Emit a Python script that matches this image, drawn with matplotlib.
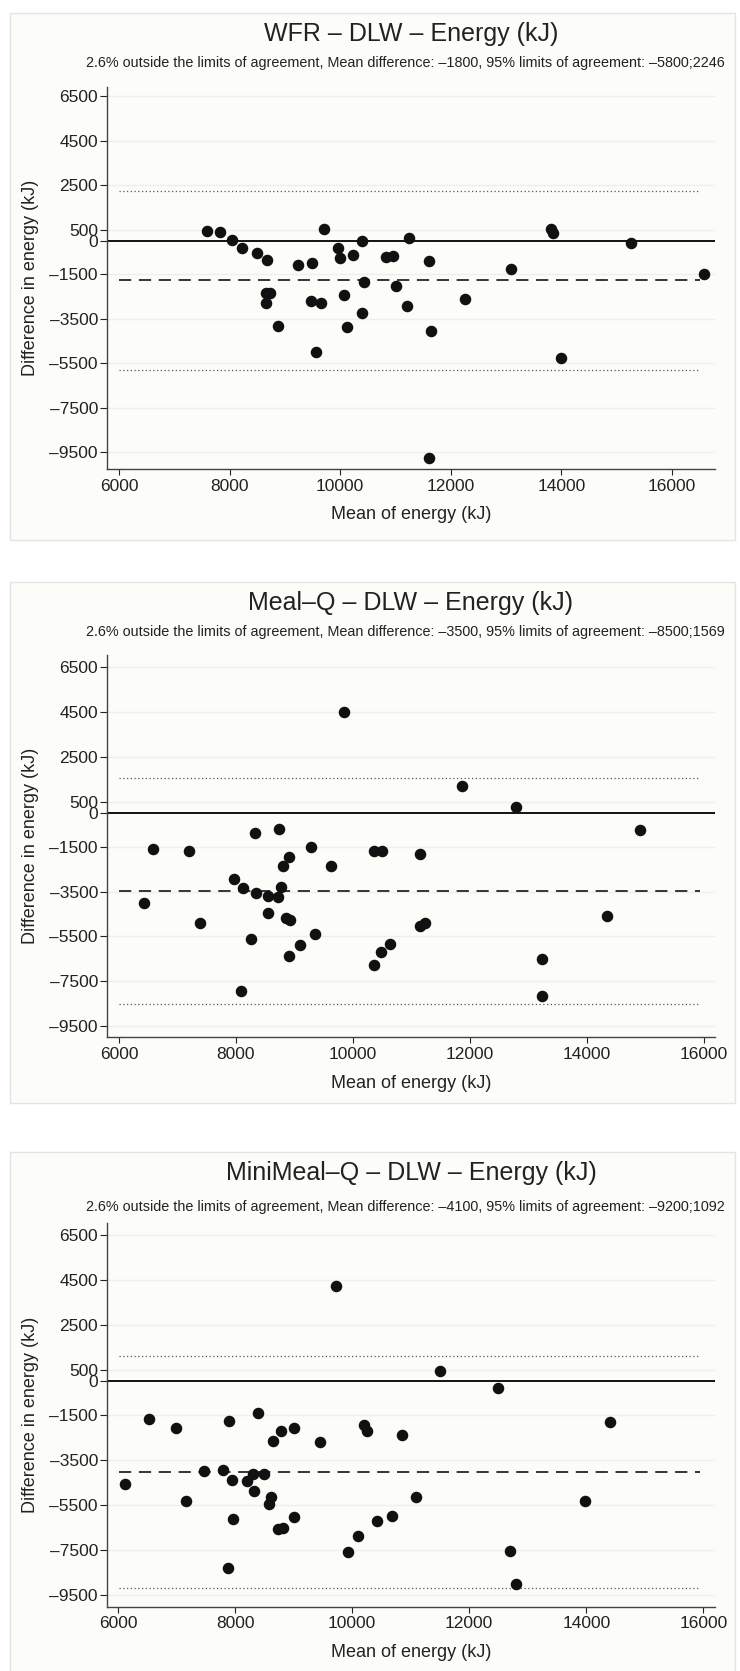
import numpy as np
import matplotlib
matplotlib.use('Agg')
import matplotlib.pyplot as plt
from matplotlib.patches import Rectangle

plt.rcParams['font.family'] = ['Liberation Sans', 'DejaVu Sans']
plt.rcParams['axes.unicode_minus'] = False

# Panel 1: WFR vs DLW
wfr_mean = [7590, 7830, 8040, 8230, 8500, 8675, 9240, 9490, 9710, 9965, 9990, 10240, 10400,
            10830, 10960, 11250, 11605, 13085, 13805, 13845, 15265, 16575, 10435, 11015, 8660,
            8735, 8660, 10070, 9470, 9660, 11205, 12255, 10400, 8870, 10120, 11640, 9555, 13990, 11615]
wfr_diff = [450, 390, 20, -340, -550, -850, -1105, -1015, 505, -330, -790, -655, -30,
            -730, -685, 105, -895, -1270, 520, 345, -90, -1495, -1860, -2050, -2335,
            -2350, -2815, -2425, -2695, -2800, -2950, -2620, -3275, -3815, -3860, -4065, -5020, -5275, -9755]

# Panel 2: Meal-Q vs DLW
mealq_mean = [9855, 11870, 12790, 8325, 8740, 14905, 6575, 7195, 9290, 10355, 10500, 11145, 8905,
              8805, 9630, 7975, 8120, 8340, 8540, 8720, 8765, 6420, 8550, 8855, 8920, 7385, 14345,
              11145, 11225, 8250, 9345, 9090, 10635, 10475, 8905, 10355, 13240, 8080, 13240]
mealq_diff = [4495, 1195, 255, -880, -700, -760, -1590, -1680, -1500, -1695, -1695, -1815, -1965,
              -2350, -2350, -2935, -3335, -3575, -3710, -3725, -3275, -3995, -4455, -4680, -4770, -4905, -4575,
              -5035, -4920, -5605, -5410, -5905, -5860, -6185, -6365, -6755, -6515, -7935, -8170]

# Panel 3: MiniMeal-Q vs DLW
mini_mean = [9725, 11505, 12495, 6525, 6985, 7900, 8390, 8650, 8790, 9000, 9450, 10210, 10260,
             10850, 14405, 6120, 7465, 7800, 7940, 8205, 8310, 8495, 8325, 8610, 8580, 7165, 11090,
             13970, 7970, 9005, 8725, 8810, 10430, 10680, 10095, 9925, 12705, 7875, 12805]
mini_diff = [4205, 460, -300, -1695, -2095, -1765, -1410, -2670, -2210, -2095, -2730, -1960, -2210,
             -2405, -1825, -4580, -3990, -3975, -4390, -4435, -4120, -4135, -4880, -5145, -5455, -5335, -5160,
             -5320, -6135, -6035, -6595, -6535, -6225, -5990, -6905, -7590, -7560, -8315, -9040]

titles = ['WFR – DLW – Energy (kJ)', 'Meal–Q – DLW – Energy (kJ)', 'MiniMeal–Q – DLW – Energy (kJ)']
subtitles = [
    '2.6% outside the limits of agreement, Mean difference: –1800, 95% limits of agreement: –5800;2246',
    '2.6% outside the limits of agreement, Mean difference: –3500, 95% limits of agreement: –8500;1569',
    '2.6% outside the limits of agreement, Mean difference: –4100, 95% limits of agreement: –9200;1092',
]
mean_diffs = [-1777, -3480, -4054]
lower_loa = [-5800, -8530, -9200]
upper_loa = [2246, 1569, 1092]

yticks = [6500, 4500, 2500, 500, 0, -1500, -3500, -5500, -7500, -9500]
xticks = [6000, 8000, 10000, 12000, 14000, 16000]

W, H = 740, 1671
fig = plt.figure(figsize=(W / 100, H / 100), dpi=100)
fig.patch.set_facecolor('white')

bg = '#fcfcf9'
# pixel layout of each panel: box top/bottom, axes top/bottom, title y, subtitle y, xlim, ylim
panels = [
    dict(box=(13, 540), ax=(87.1, 469), t=34, s=63, xlim=(5783, 16778), ylim=(-10264, 6900)),
    dict(box=(582, 1103), ax=(655, 1037.3), t=603, s=632, xlim=(5795, 16193), ylim=(-10000, 7050)),
    dict(box=(1152, 1700), ax=(1223.3, 1606.7), t=1173, s=1207, xlim=(5810, 16200), ylim=(-10033, 7007)),
]
data = [(wfr_mean, wfr_diff), (mealq_mean, mealq_diff), (mini_mean, mini_diff)]

ax_left, ax_right = 107, 715
cx = (ax_left + ax_right) / 2 / W

for i, p in enumerate(panels):
    b0, b1 = p['box']
    fig.patches.append(Rectangle((10 / W, 1 - b1 / H), 725 / W, (b1 - b0) / H,
                                 transform=fig.transFigure, facecolor=bg,
                                 edgecolor='#e4e4e4', lw=1.0, zorder=-5))
    a0, a1 = p['ax']
    ax = fig.add_axes([ax_left / W, 1 - a1 / H, (ax_right - ax_left) / W, (a1 - a0) / H])
    ax.set_facecolor(bg)
    x, y = data[i]

    for t in yticks:
        if t != 0:
            ax.axhline(t, color='#efefef', lw=1.0, zorder=1)
    ax.axhline(0, color='black', lw=1.3, zorder=2)
    ax.axhline(mean_diffs[i], xmin=0.02, xmax=0.975, color='black', lw=1.1,
               linestyle=(0, (8, 5)), zorder=2)
    for lim in (lower_loa[i], upper_loa[i]):
        ax.axhline(lim, xmin=0.02, xmax=0.975, color='#555555', lw=0.9,
                   linestyle=(0, (1, 2)), zorder=2)
    ax.plot(x, y, 'o', color='#111111', ms=7.3, zorder=3)

    ax.set_xlim(*p['xlim'])
    ax.set_ylim(*p['ylim'])
    ax.set_xticks(xticks)
    ax.set_yticks(yticks)
    ax.set_xticklabels([str(v) for v in xticks])
    ax.set_yticklabels([str(v).replace('-', '–') for v in yticks])
    for s in ('top', 'right'):
        ax.spines[s].set_visible(False)
    for s in ('left', 'bottom'):
        ax.spines[s].set_color('#444444')
        ax.spines[s].set_linewidth(1.0)
    ax.tick_params(axis='y', length=5, width=0.8, pad=1.5, labelsize=12.5, colors='#222222')
    ax.tick_params(axis='x', length=4, width=0.8, pad=3, labelsize=12.5, colors='#222222')
    ax.set_xlabel('Mean of energy (kJ)', fontsize=13, color='#222222', labelpad=9)

    fig.text(31 / W, 1 - (a0 + a1) / 2 / H, 'Difference in energy (kJ)', rotation=90,
             ha='center', va='center', fontsize=13, color='#222222')
    fig.text(cx, 1 - p['t'] / H, titles[i], ha='center', va='center', fontsize=18, color='#222222')
    fig.text(cx - 6 / W, 1 - p['s'] / H, subtitles[i], ha='center', va='center',
             fontsize=10.4, color='#222222')

fig.savefig('out.png', dpi=100)
